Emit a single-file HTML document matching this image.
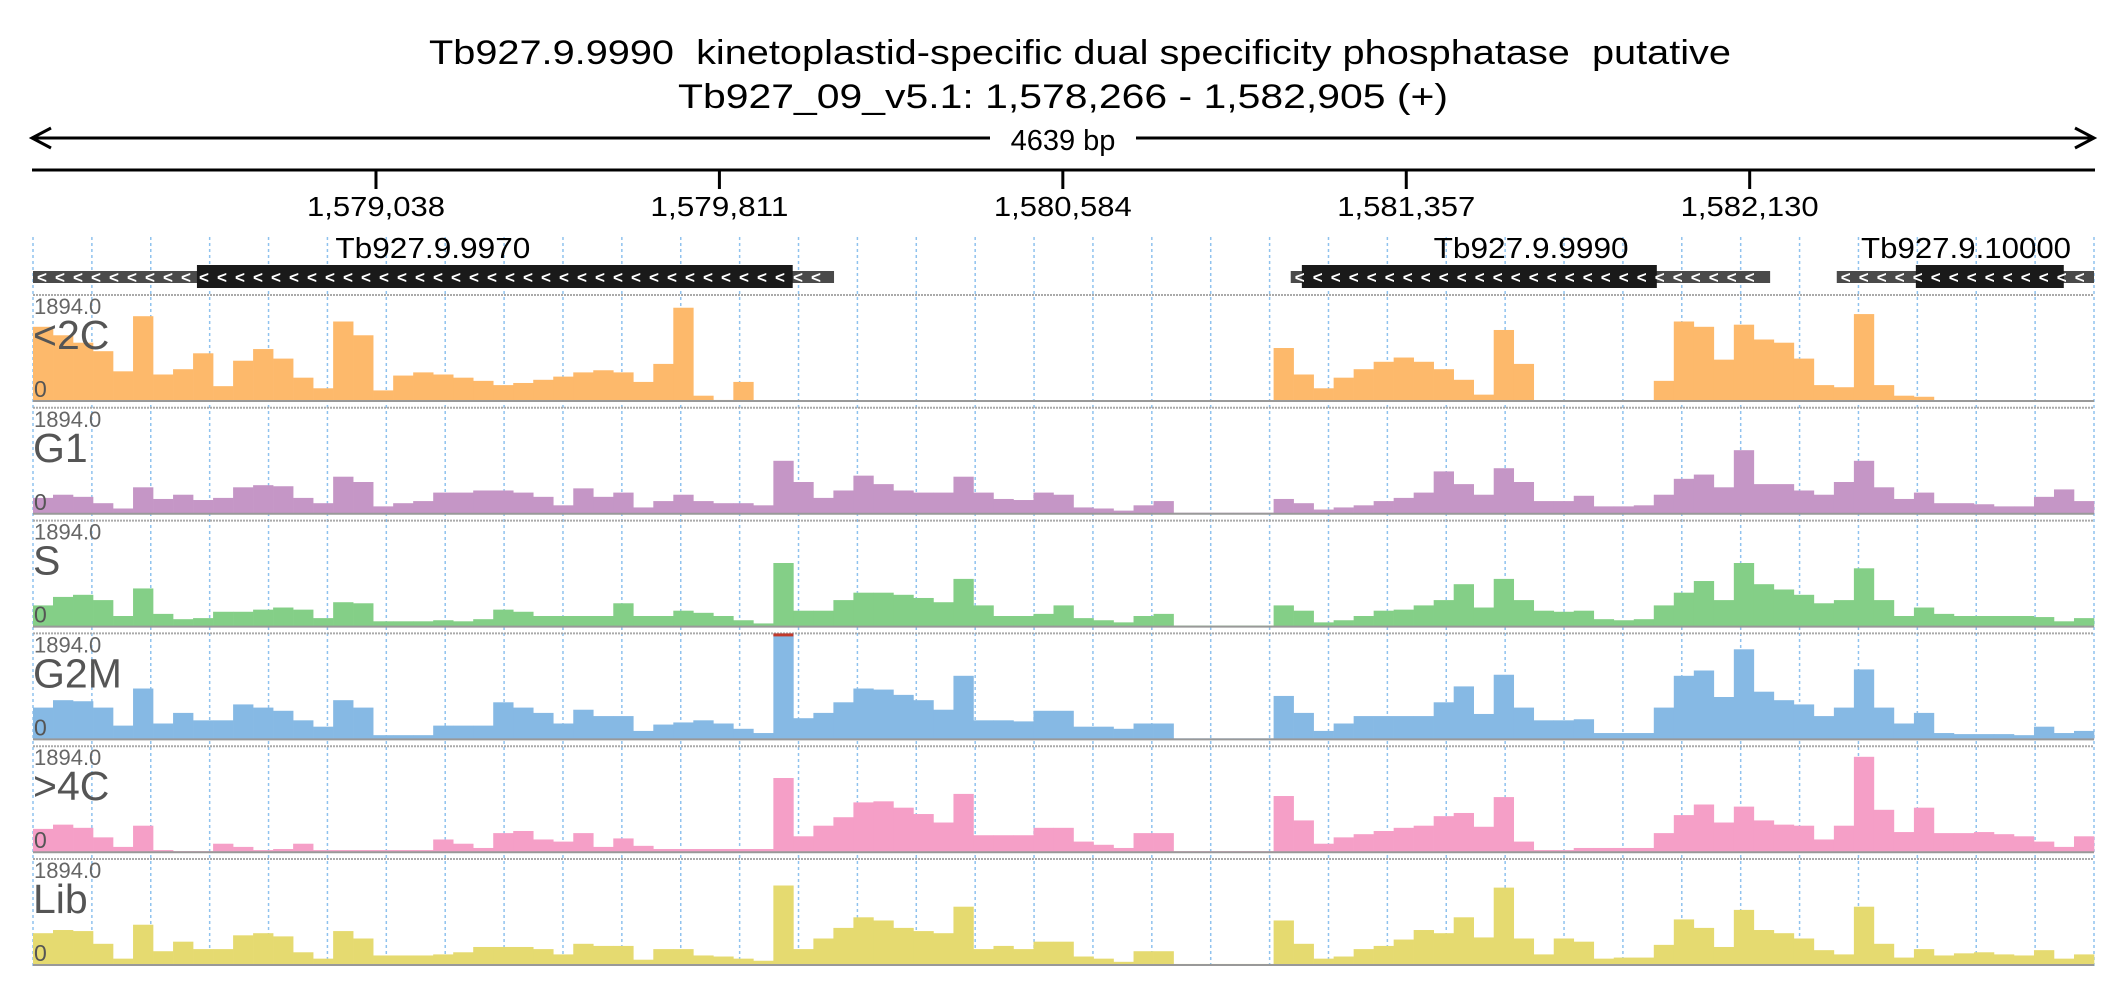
<!DOCTYPE html>
<html><head><meta charset="utf-8"><style>
html,body{margin:0;padding:0;background:#fff;}
svg{display:block;font-family:"Liberation Sans",sans-serif;}
</style></head><body>
<svg id="chart" width="2126" height="1000" viewBox="0 0 2126 1000" xmlns="http://www.w3.org/2000/svg">
<g>
<text x="1080" y="64" font-size="34" text-anchor="middle" textLength="1302" lengthAdjust="spacingAndGlyphs" fill="#000">Tb927.9.9990&#160; kinetoplastid-specific dual specificity phosphatase&#160; putative</text>
<text x="1063" y="108" font-size="34" text-anchor="middle" textLength="770" lengthAdjust="spacingAndGlyphs" fill="#000">Tb927_09_v5.1: 1,578,266 - 1,582,905 (+)</text>
</g>
<g>
<line x1="32" y1="138" x2="2094" y2="138" stroke="#000" stroke-width="3"/>
<polyline points="51,128 32,138 51,148" fill="none" stroke="#000" stroke-width="3"/>
<polyline points="2075,128 2094,138 2075,148" fill="none" stroke="#000" stroke-width="3"/>
<rect x="990" y="124" width="146" height="30" fill="#fff"/>
<text x="1063" y="150" font-size="29" text-anchor="middle">4639 bp</text>
</g>
<line x1="32" y1="170" x2="2095" y2="170" stroke="#000" stroke-width="3"/>
<g id="ticks"></g>
<g id="grid"></g>
<g id="genes"></g>
<g id="tracks"></g>
</svg>
<script>
const regionStart = 1578266, regionEnd = 1582905;
const tickPositions = [1579038, 1579811, 1580584, 1581357, 1582130];
const tickLabels = ["1,579,038", "1,579,811", "1,580,584", "1,581,357", "1,582,130"];
const trackNames = ["<2C", "G1", "S", "G2M", ">4C", "Lib"];
const trackMaxLabel = ["1894.0", "1894.0", "1894.0", "1894.0", "1894.0", "1894.0"];
const trackColors = ["#fdb96b", "#c596c6", "#84cf87", "#86b9e4", "#f59fc7", "#e5da70"];
// coverage per bin, percent of 1894 reads (103 equal bins)
const cov2C = [70,62,55,47,28,80,25,30,45,14,38,49,40,22,12,75,62,10,24,27,25,22,19,15,17,20,23,27,29,27,18,35,88,5,1,18,0,0,0,0,0,0,0,0,0,0,0,0,0,0,0,0,0,0,0,0,0,0,0,0,0,0,50,25,12,22,30,37,41,37,30,20,6,67,35,0,0,0,0,0,0,19,75,70,39,72,58,55,40,15,13,82,15,5,4,0,0,0,0,0,0,0,0];
const covG1 = [15,18,16,10,5,25,14,18,13,15,25,27,26,15,10,35,30,7,10,12,20,20,22,22,20,16,8,24,16,20,6,12,18,12,10,10,8,50,30,15,22,36,28,22,20,20,35,20,14,13,20,18,6,5,3,8,12,1,1,1,1,1,14,10,4,6,8,12,15,20,40,28,18,43,30,12,12,17,7,7,8,18,33,37,25,60,28,28,22,18,30,50,25,14,20,10,10,9,7,7,16,23,12];
const covS = [20,28,30,25,10,36,12,7,8,14,14,16,18,16,8,23,22,5,5,5,6,5,7,16,14,10,10,10,10,22,10,10,15,13,10,6,3,60,15,15,25,32,32,30,27,23,45,20,10,10,12,20,8,6,4,10,12,1,1,1,1,1,20,15,4,6,10,15,16,20,25,40,18,45,25,15,14,15,7,6,7,20,32,43,25,60,40,35,30,22,25,55,25,10,18,12,10,10,10,10,9,5,8];
const covG2M = [30,37,36,30,13,48,15,25,18,18,33,30,27,18,12,37,30,4,4,4,13,13,13,35,30,25,15,28,22,22,8,14,16,18,15,10,6,102,20,25,35,48,47,42,37,28,60,18,18,17,27,27,12,12,10,15,15,1,1,1,1,1,41,25,8,15,22,22,22,22,35,50,24,61,30,18,18,19,6,6,6,30,60,65,40,85,45,37,33,22,30,66,30,15,25,6,5,5,5,4,12,6,8];
const cov4C = [22,26,23,14,5,25,2,1,1,8,5,2,3,8,2,2,2,2,2,2,12,8,4,18,20,12,10,18,5,13,6,3,3,3,3,3,3,70,15,25,33,47,48,42,36,28,55,16,16,16,23,23,10,7,4,18,18,1,1,1,1,1,53,30,8,14,17,20,23,25,34,37,24,52,10,2,2,4,4,4,4,18,35,45,28,43,30,26,25,12,25,90,40,19,42,18,18,19,17,15,10,5,15];
const covLib = [30,33,32,20,6,38,13,22,15,15,28,30,27,12,6,32,25,9,9,9,10,12,17,17,17,15,10,20,18,18,5,15,15,9,8,6,4,75,15,25,35,45,42,35,32,30,55,15,18,15,22,22,8,6,3,13,13,1,1,1,1,1,42,20,6,8,15,18,24,33,30,45,26,73,25,10,25,22,6,7,7,19,43,35,17,52,33,30,25,14,10,55,20,7,15,9,11,12,10,9,14,6,10];
const trackData = [cov2C, covG1, covS, covG2M, cov4C, covLib];
const geneNames = ["Tb927.9.9970", "Tb927.9.9990", "Tb927.9.10000"];
const geneSpan = [[1578264, 1580069], [1581097, 1582176], [1582326, 1582905]];
const geneCds = [[1578635, 1579976], [1581122, 1581921], [1582504, 1582837]];
const geneLabelPos = [1579166, 1581638, 1582617];

const NS = "http://www.w3.org/2000/svg";
const X0 = 33, X1 = 2094;
function xs(bp){ return X0 + (bp - regionStart) * (X1 - X0) / (regionEnd - regionStart); }
function mk(tag, attrs, parent){ const e = document.createElementNS(NS, tag); for (const k in attrs) e.setAttribute(k, attrs[k]); parent.appendChild(e); return e; }

const ticksG = document.getElementById("ticks");
tickPositions.forEach((p, i) => {
  const x = xs(p);
  const l = mk("line", {x1:x, y1:170, x2:x, y2:189, stroke:"#000", "stroke-width":3}, ticksG);
  
  
  const t = mk("text", {x:x, y:216, "font-size":28, "text-anchor":"middle", textLength:138, lengthAdjust:"spacingAndGlyphs"}, ticksG);
  t.textContent = tickLabels[i];
  
  
});

const gridG = document.getElementById("grid");
for (let k = 0; k <= 35; k++) {
  const x = X0 + k * (X1 - X0) / 35;
  const g = mk("line", {x1:x, y1:237, x2:x, y2:966, stroke:"#8fc2ee", "stroke-width":1.5, "stroke-dasharray":"3,3"}, gridG);
  
  
}

const genesG = document.getElementById("genes");
geneNames.forEach((n, i) => {
  const g = mk("g", {}, genesG);
  
  
  const a = Math.max(xs(geneSpan[i][0]), X0), b = Math.min(xs(geneSpan[i][1]), X1);
  mk("rect", {x:a, y:271, width:b - a, height:12, fill:"#4a4a4a"}, g);
  const c = xs(geneCds[i][0]), d = xs(geneCds[i][1]);
  mk("rect", {x:c, y:265, width:d - c, height:23, fill:"#1a1a1a"}, g);
  for (let x = a + 4; x < b - 8; x += 18) {
    const ch = mk("text", {x:x, y:283, "font-size":17, fill:"#fff", "font-weight":"bold"}, g);
    ch.textContent = "<";
  }
  const t = mk("text", {x:xs(geneLabelPos[i]), y:258, "font-size":29, "text-anchor":"middle", textLength:(i === 2 ? 210 : 195), lengthAdjust:"spacingAndGlyphs"}, g);
  t.textContent = n;
  
  
});

const tracksG = document.getElementById("tracks");
const nBins = cov2C.length;
const binBp = (regionEnd - regionStart) / nBins;
trackNames.forEach((name, ti) => {
  const top = 295 + ti * 112.8, H = 106, base = top + H;
  const g = mk("g", {}, tracksG);
  
  
  mk("line", {x1:X0, y1:top, x2:X1, y2:top, stroke:"#aaa", "stroke-width":2, "stroke-dasharray":"2,1"}, g);
  const vals = trackData[ti];
  vals.forEach((v, i) => {
    const x = xs(regionStart + i * binBp), w = xs(regionStart + (i + 1) * binBp) - x;
    const h = Math.min(v, 100) / 100 * H;
    const r = mk("rect", {x:x, y:base - h, width:w + 0.3, height:h, fill:trackColors[ti]}, g);
    
    
    if (v > 100) mk("rect", {x:x, y:top, width:w, height:3, fill:"#c0392b"}, g);
  });
  mk("line", {x1:X0, y1:base, x2:X1, y2:base, stroke:"#999", "stroke-width":2}, g);
  const m = mk("text", {x:X0 + 1, y:top + 19, "font-size":22, fill:"#666"}, g);
  m.textContent = trackMaxLabel[ti];
  
  
  const nm = mk("text", {x:X0, y:top + 54, "font-size":41, fill:"#555"}, g);
  nm.textContent = name;
  
  
  const z = mk("text", {x:X0 + 1, y:top + 102, "font-size":23, fill:"#555"}, g);
  z.textContent = "0";
  
  
});
</script>
</body></html>
